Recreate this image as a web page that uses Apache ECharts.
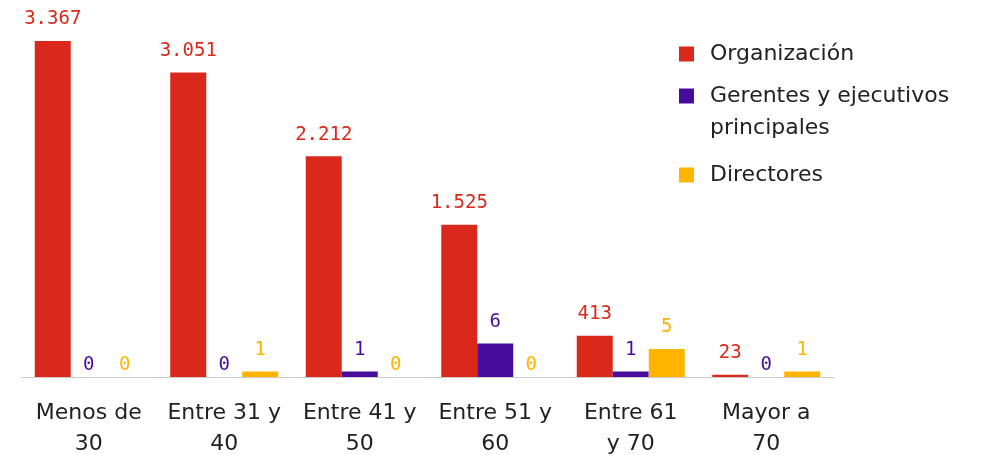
<!DOCTYPE html>
<html><head><meta charset="utf-8">
<script src="https://cdn.jsdelivr.net/npm/echarts@6/dist/echarts.min.js"></script>
<style>html,body{margin:0;padding:0;background:#fff}#c{width:990px;height:455px}</style>
</head><body><div id="c"></div>
<script>
const categories = ["Menos de\n30", "Entre 31 y\n40", "Entre 41 y\n50", "Entre 51 y\n60", "Entre 61\ny 70", "Mayor a\n70"];
const seriesNames = ["Organización", "Gerentes y ejecutivos principales", "Directores"];
const organizacion = [3367, 3051, 2212, 1525, 413, 23];
const gerentes = [0, 0, 1, 6, 1, 0];
const directores = [0, 1, 0, 0, 5, 1];
const colors = ["#DA291C", "#480C9C", "#FFB400"];

const fmt = v => String(v).replace(/\B(?=(\d{3})+(?!\d))/g, ".");
const mono = "'DejaVu Sans Mono', monospace";
const sans = "'DejaVu Sans', sans-serif";

function mk(name, data, idx, axis) {
  return {
    name: name, type: 'bar', yAxisIndex: axis,
    barWidth: 36, barGap: '0%',
    itemStyle: {color: colors[idx]},
    data: data.map(v => v === 0 ? {value: v, label: {distance: 2}} : v),
    label: {show: true, position: 'top', distance: 12, color: colors[idx],
      fontFamily: mono, fontSize: 19, formatter: p => fmt(p.value)}
  };
}
const chart = echarts.init(document.getElementById('c'));
const legendBase = {orient: 'vertical', left: 679, padding: 0, icon: 'rect', itemWidth: 15, itemHeight: 15,
  textStyle: {fontFamily: sans, fontSize: 22, color: '#222', lineHeight: 32, padding: [0, 0, 0, 11]}};
chart.setOption({
  animation: false,
  color: colors,
  legend: [
    Object.assign({}, legendBase, {top: 38, data: [seriesNames[0]]}),
    Object.assign({}, legendBase, {top: 48, data: [seriesNames[1]],
      formatter: n => "\nGerentes y ejecutivos\nprincipales"}),
    Object.assign({}, legendBase, {top: 159, data: [seriesNames[2]]})
  ],
  grid: {left: 21, right: 156, top: 41, bottom: 78, containLabel: false, outerBoundsMode: 'none'},
  xAxis: {type: 'category', data: categories,
    axisLine: {lineStyle: {color: '#cccccc', width: 1}}, axisTick: {show: false},
    axisLabel: {fontFamily: sans, fontSize: 22, color: '#222', lineHeight: 31, margin: 21, interval: 0}},
  yAxis: [
    {type: 'value', min: 0, max: 3367, show: false, splitLine: {show: false}},
    {type: 'value', min: 0, max: 60, show: false, splitLine: {show: false}}
  ],
  series: [
    mk(seriesNames[0], organizacion, 0, 0),
    mk(seriesNames[1], gerentes, 1, 1),
    mk(seriesNames[2], directores, 2, 1)
  ]
});
</script></body></html>
